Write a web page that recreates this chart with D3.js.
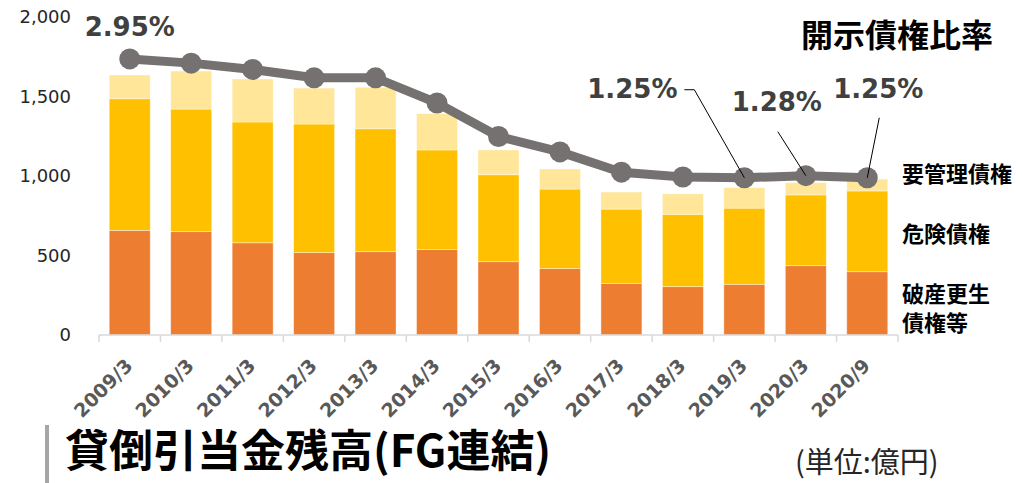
<!DOCTYPE html>
<html>
<head>
<meta charset="utf-8">
<script src="https://cdn.jsdelivr.net/npm/d3@7"></script>
<style>
body { margin: 0; background: #fff; }
svg { display: block; }
</style>
</head>
<body>
<svg id="chart" width="1022" height="483"></svg>
<script>
// data, 億円
var periods = ["2009/3", "2010/3", "2011/3", "2012/3", "2013/3", "2014/3", "2015/3",
               "2016/3", "2017/3", "2018/3", "2019/3", "2020/3", "2020/9"];
var bankrupt    = [658, 650, 580, 518, 524, 537, 461, 418, 325, 304, 319, 436, 398]; // 破産更生債権等
var doubtful    = [828, 771, 760, 809, 773, 627, 547, 500, 467, 455, 479, 445, 508]; // 危険債権
var substandard = [149, 239, 270, 226, 261, 228, 156, 126, 107, 129, 129, 77, 75];  // 要管理債権
var ratio       = [2.95, 2.89, 2.80, 2.68, 2.68, 2.32, 1.84, 1.62, 1.33, 1.26, 1.25, 1.28, 1.25]; // 開示債権比率 %
var yTicks = [0, 500, 1000, 1500, 2000];
var seriesNames = ["破産更生債権等", "危険債権", "要管理債権"];
var seriesColors = ["#ED7D31", "#FFC000", "#FFE699"];

var latin = "'DejaVu Sans', Verdana, sans-serif";
var cjk = "'Noto Sans CJK JP', sans-serif";

var svg = d3.select("#chart");

var x = d3.scaleBand()
		.domain(periods)
		.range([99, 898])
		.paddingInner(0.333)
		.paddingOuter(0.1665);

var y = d3.scaleLinear().domain([0, 2000]).range([335, 17]);
// hidden secondary axis for the ratio line
var yr = d3.scaleLinear().domain([-1, 3.55]).range([335, 17]);

// stacked bars
var rows = periods.map(function(p, i) {
	return { period: p, s0: bankrupt[i], s1: doubtful[i], s2: substandard[i] };
});
var stacked = d3.stack().keys(["s0", "s1", "s2"])(rows);

svg.append("g")
	.selectAll("g")
	.data(stacked)
	.enter().append("g")
		.attr("fill", function(d, i) { return seriesColors[i]; })
	.selectAll("rect")
	.data(function(d) { return d; })
	.enter().append("rect")
		.attr("x", function(d) { return x(d.data.period); })
		.attr("y", function(d) { return y(d[1]); })
		.attr("width", x.bandwidth())
		.attr("height", function(d) { return y(d[0]) - y(d[1]); })
		.attr("stroke", "#fff")
		.attr("stroke-opacity", 0.5)
		.attr("stroke-width", 0.8);

// x axis line + ticks between categories
var x0 = x.range()[0], step = x.step();
svg.append("line")
	.attr("x1", x0).attr("x2", x.range()[1])
	.attr("y1", y(0)).attr("y2", y(0))
	.attr("stroke", "#d9d9d9")
	.attr("stroke-width", 1.5);

svg.append("g")
	.selectAll("line")
	.data(d3.range(periods.length + 1))
	.enter().append("line")
		.attr("x1", function(d) { return x0 + d * step; })
		.attr("x2", function(d) { return x0 + d * step; })
		.attr("y1", y(0)).attr("y2", y(0) + 7)
		.attr("stroke", "#d9d9d9")
		.attr("stroke-width", 1.5);

svg.append("g")
	.selectAll("text")
	.data(periods)
	.enter().append("text")
		.attr("transform", function(d) {
			return "translate(" + (x(d) + x.bandwidth() / 2 + 4) + ",367) rotate(-45)";
		})
		.attr("text-anchor", "end")
		.attr("font-family", latin)
		.attr("font-weight", "bold")
		.attr("font-size", 19)
		.attr("fill", "#595959")
		.text(function(d) { return d; });

// y axis labels
var yAxis = svg.append("g")
	.attr("transform", "translate(99,0)")
	.call(d3.axisLeft(y).tickValues(yTicks).tickFormat(d3.format(",")).tickSize(0).tickPadding(28));
yAxis.select(".domain").remove();
yAxis.selectAll("text")
	.attr("font-family", latin)
	.attr("font-size", 18)
	.attr("fill", "#262626");

// ratio line
var cx = function(i) { return x(periods[i]) + x.bandwidth() / 2; };
var line = d3.line()
	.x(function(d, i) { return cx(i); })
	.y(function(d) { return yr(d); });

svg.append("path")
	.attr("d", line(ratio))
	.attr("fill", "none")
	.attr("stroke", "#757171")
	.attr("stroke-width", 9)
	.attr("stroke-linejoin", "round");

svg.append("g")
	.selectAll("circle")
	.data(ratio)
	.enter().append("circle")
		.attr("cx", function(d, i) { return cx(i); })
		.attr("cy", function(d) { return yr(d); })
		.attr("r", 10.5)
		.attr("fill", "#757171");

// ratio labels: offset from the point, leader start offset (null = no leader)
var ratioLabels = [
	{ idx: 0,  dx: 0,    dy: -23, lead: null },
	{ idx: 10, dx: -112, dy: -80, lead: [[-60, -88], [-50, -88]] },
	{ idx: 11, dx: -29,  dy: -65, lead: [[-28, -44]] },
	{ idx: 12, dx: 11,   dy: -80, lead: [[12, -60]] }
];

ratioLabels.forEach(function(l) {
	var px = cx(l.idx), py = yr(ratio[l.idx]);
	if (l.lead) {
		var pts = l.lead.map(function(o) { return [px + o[0], py + o[1]]; });
		pts.push([px, py]);
		svg.append("path")
			.attr("d", d3.line()(pts))
			.attr("fill", "none")
			.attr("stroke", "#000")
			.attr("stroke-width", 1);
	}
	svg.append("text")
		.attr("x", px + l.dx)
		.attr("y", py + l.dy)
		.attr("text-anchor", "middle")
		.attr("font-family", latin)
		.attr("font-weight", "bold")
		.attr("font-size", 26)
		.attr("fill", "#404040")
		.text(d3.format(".2f")(ratio[l.idx]) + "%");
});

// series names on the right
var legend = [
	{ lines: [seriesNames[2]], y: 182 },
	{ lines: [seriesNames[1]], y: 242 },
	{ lines: ["破産更生", "債権等"], y: 302 }
];
legend.forEach(function(l) {
	l.lines.forEach(function(t, j) {
		svg.append("text")
			.attr("x", 902)
			.attr("y", l.y + j * 29)
			.attr("font-family", cjk)
			.attr("font-weight", "bold")
			.attr("font-size", 22)
			.attr("fill", "#000")
			.text(t);
	});
});

svg.append("text")
	.attr("x", 801)
	.attr("y", 47)
	.attr("font-family", cjk)
	.attr("font-weight", "bold")
	.attr("font-size", 32)
	.attr("fill", "#000")
	.text("開示債権比率");

// title block
svg.append("rect")
	.attr("x", 45).attr("y", 425)
	.attr("width", 4).attr("height", 58)
	.attr("fill", "#a6a6a6");

svg.append("text")
	.attr("x", 65)
	.attr("y", 467)
	.attr("font-family", cjk)
	.attr("font-weight", "bold")
	.attr("font-size", 44)
	.attr("fill", "#000")
	.text("貸倒引当金残高(FG連結)");

svg.append("text")
	.attr("x", 795)
	.attr("y", 473)
	.attr("font-family", cjk)
	.attr("font-size", 29)
	.attr("fill", "#262626")
	.text("(単位:億円)");
</script>
</body>
</html>
